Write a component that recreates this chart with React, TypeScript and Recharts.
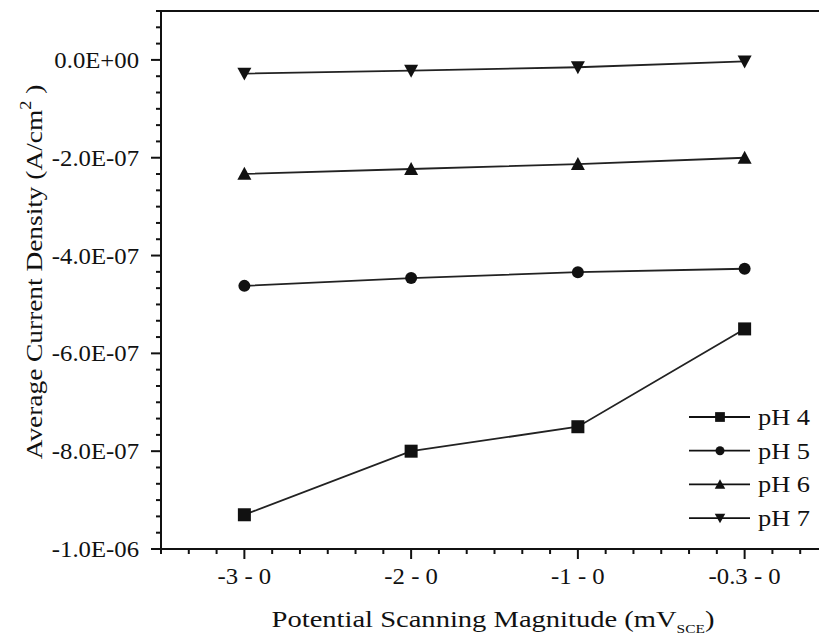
import React from 'react';
import { LineChart, Line, XAxis, YAxis, ReferenceLine } from 'recharts';

const categories = ['-3 - 0', '-2 - 0', '-1 - 0', '-0.3 - 0'];
const ph4 = [-9.3e-7, -8.0e-7, -7.5e-7, -5.5e-7];
const ph5 = [-4.62e-7, -4.46e-7, -4.34e-7, -4.27e-7];
const ph6 = [-2.33e-7, -2.23e-7, -2.13e-7, -2.0e-7];
const ph7 = [-2.8e-8, -2.2e-8, -1.5e-8, -3e-9];
const yMajorTicks = [-1e-6, -8e-7, -6e-7, -4e-7, -2e-7, 0];
const yTickLabels = ['-1.0E-06', '-8.0E-07', '-6.0E-07', '-4.0E-07', '-2.0E-07', '0.0E+00'];

const FONT = '"Liberation Serif", serif';
const INK = '#111';

const data = categories.map((c, i) => ({ x: i, name: c, ph4: ph4[i], ph5: ph5[i], ph6: ph6[i], ph7: ph7[i] }));

// minor ticks: 6 per major interval
const yTicks: number[] = [];
for (let k = 0; k <= 33; k++) yTicks.push(-1e-6 + (k * 2e-7) / 6);
const xTicks: number[] = [];
for (let k = 0; k <= 24; k++) xTicks.push(-0.5 + k / 6);

// the original's text is a bit wider than its height suggests
function SText({ x, y, sx, anchor, rot, children }: any) {
  const t = `translate(${x},${y})${rot ? ` rotate(${rot})` : ''} scale(${sx},1)`;
  return (
    <text transform={t} x={0} y={0} textAnchor={anchor || 'start'} fontFamily={FONT} fontSize={24} fill={INK}>
      {children}
    </text>
  );
}

function Marker({ kind, cx, cy, s }: { kind: string; cx: number; cy: number; s: number }) {
  const h = s / 2;
  if (kind === 'square') return <rect x={cx - h} y={cy - h} width={s} height={s} fill={INK} />;
  if (kind === 'circle') return <circle cx={cx} cy={cy} r={h} fill={INK} />;
  if (kind === 'up')
    return <polygon points={`${cx - h},${cy + h * 0.85} ${cx + h},${cy + h * 0.85} ${cx},${cy - h}`} fill={INK} />;
  return <polygon points={`${cx - h},${cy - h * 0.85} ${cx + h},${cy - h * 0.85} ${cx},${cy + h}`} fill={INK} />;
}

const series = [
  { key: 'ph4', name: 'pH 4', kind: 'square', size: 13 },
  { key: 'ph5', name: 'pH 5', kind: 'circle', size: 12 },
  { key: 'ph6', name: 'pH 6', kind: 'up', size: 14 },
  { key: 'ph7', name: 'pH 7', kind: 'down', size: 14 },
];

const YTick = (props: any) => {
  const { x, y, payload } = props;
  const v = payload.value;
  const idx = yMajorTicks.findIndex((m) => Math.abs(m - v) < 1e-9);
  const major = idx >= 0;
  return (
    <g>
      <line x1={x - (major ? 10 : 5)} x2={x} y1={y} y2={y} stroke={INK} strokeWidth={2} />
      {major && (
        <SText x={x - 22} y={y + 8} sx={1.03} anchor="end">
          {yTickLabels[idx]}
        </SText>
      )}
    </g>
  );
};

const XTick = (props: any) => {
  const { x, y, payload } = props;
  const v = payload.value;
  const idx = Math.round(v);
  const major = Math.abs(v - idx) < 1e-6 && idx >= 0 && idx < categories.length;
  return (
    <g>
      <line x1={x} x2={x} y1={y} y2={y + (major ? 10 : 5)} stroke={INK} strokeWidth={2} />
      {major && (
        <SText x={x} y={y + 35} sx={1.03} anchor="middle">
          {categories[idx]}
        </SText>
      )}
    </g>
  );
};

export default function App() {
  return (
    <div style={{ position: 'absolute', left: 0, top: 0, width: 819, height: 639, overflow: 'hidden', background: '#fff' }}>
      <LineChart width={828} height={639} data={data} margin={{ top: 11, right: 0, left: 101, bottom: 60 }}>
        <XAxis
          type="number"
          dataKey="x"
          domain={[-0.5, 3.5]}
          ticks={xTicks}
          interval={0}
          tick={<XTick />}
          tickLine={false}
          tickSize={0}
          tickMargin={0}
          axisLine={{ stroke: INK, strokeWidth: 2 }}
          allowDataOverflow
        />
        <YAxis
          type="number"
          domain={[-1e-6, 1e-7]}
          ticks={yTicks}
          interval={0}
          tick={<YTick />}
          tickLine={false}
          tickSize={0}
          tickMargin={0}
          width={60}
          axisLine={{ stroke: INK, strokeWidth: 2 }}
          allowDataOverflow
        />
        <ReferenceLine y={1e-7} stroke={INK} strokeWidth={2} />
        {series.map((s) => (
          <Line
            key={s.key}
            dataKey={s.key}
            name={s.name}
            type="linear"
            stroke="#222"
            strokeWidth={1.8}
            isAnimationActive={false}
            dot={(p: any) => <Marker key={`${s.key}-${p.index}`} kind={s.kind} cx={p.cx} cy={p.cy} s={s.size} />}
            activeDot={false}
          />
        ))}
      </LineChart>
      <svg style={{ position: 'absolute', left: 0, top: 0 }} width={819} height={639} pointerEvents="none">
        {series.map((s, i) => {
          const y = 417 + i * 33.7;
          return (
            <g key={s.key}>
              <line x1={689} x2={750} y1={y} y2={y} stroke={INK} strokeWidth={1.8} />
              <Marker kind={s.kind} cx={720} cy={y} s={s.size * 0.75} />
              <SText x={758} y={y + 8} sx={1.1}>
                {s.name}
              </SText>
            </g>
          );
        })}
        <SText x={42} y={272} rot={-90} sx={1.14} anchor="middle">
          Average Current Density (A/cm
          <tspan fontSize={16} dy={-11}>2</tspan>
          <tspan dy={11}> )</tspan>
        </SText>
        <SText x={493} y={627} sx={1.19} anchor="middle">
          Potential Scanning Magnitude (mV
          <tspan fontSize={13} dy={6}>SCE</tspan>
          <tspan dy={-6}>)</tspan>
        </SText>
      </svg>
    </div>
  );
}
